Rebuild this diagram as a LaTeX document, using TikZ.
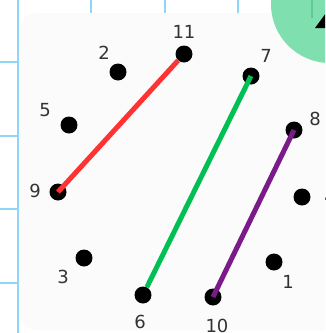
\documentclass[tikz,border=0pt]{standalone}
\usepackage{fontspec}
\setsansfont{DejaVu Sans}
\definecolor{gridblue}{HTML}{8FD6F6}
\definecolor{panelgray}{HTML}{FBFBFB}
\definecolor{mint}{HTML}{80DFAF}
\definecolor{mintdark}{HTML}{5CC99A}
\definecolor{segred}{HTML}{FF3333}
\definecolor{seggreen}{HTML}{00BF55}
\definecolor{segpurple}{HTML}{7B1B8A}

\begin{document}
\begin{tikzpicture}[x=1pt, y=-1pt,
  dot/.style={circle, fill=black, minimum size=17pt, inner sep=0pt},
  num/.style={font=\sffamily\fontsize{18}{18}\selectfont, text=black!80, inner sep=0pt},
  seg/.style={line width=5pt},
  gridline/.style={draw=gridblue, line width=2pt}
]
\useasboundingbox (0,0) rectangle (325,333);
\clip (0,0) rectangle (325,333);
% sheet background
\draw[gridline] (18,0) -- (18,333);
\foreach \x in {91,165,238} \draw[gridline] (\x,0) -- (\x,14);
\foreach \y in {62,136,209,283} \draw[gridline] (0,\y) -- (19,\y);
\fill[panelgray, rounded corners=16pt] (20,13) rectangle (345,330);
\fill[mint] (330,4) circle (59);
\draw[mintdark, line width=2pt] (312,0) -- (312,18);
\fill[black] (315,28) -- (326,13) -- (326,28) -- cycle;
% dots
\node[dot] (d1)  at (274,262) {};
\node[dot] (d2)  at (118,72)  {};
\node[dot] (d3)  at (84,258)  {};
\node[dot] (d4)  at (302,197) {};
\node[dot] (d5)  at (69,125)  {};
\node[dot] (d6)  at (143,295) {};
\node[dot] (d7)  at (251,76)  {};
\node[dot] (d8)  at (294,130) {};
\node[dot] (d9)  at (58,192)  {};
\node[dot] (d10) at (213,297) {};
\node[dot] (d11) at (184,54)  {};
% numbers
\node[num] (l1)  at (288,282) {1};
\node[num] (l2)  at (104,53)  {2};
\node[num] (l3)  at (63,277)  {3};
\node[num] (l4)  at (330,197) {4};
\node[num] (l5)  at (45,110)  {5};
\node[num] (l6)  at (140,322) {6};
\node[num] (l7)  at (266,56)  {7};
\node[num] (l8)  at (315,119) {8};
\node[num] (l9)  at (35,191)  {9};
\node[num] (l10) at (217,326) {10};
\node[num] (l11) at (184,32)  {11};
% segments
\draw[seg, segred]    (d9.center) -- (d11);
\draw[seg, seggreen]  (d6) -- (d7.center);
\draw[seg, segpurple] (d10.center) -- (d8.center);
\end{tikzpicture}
\end{document}
